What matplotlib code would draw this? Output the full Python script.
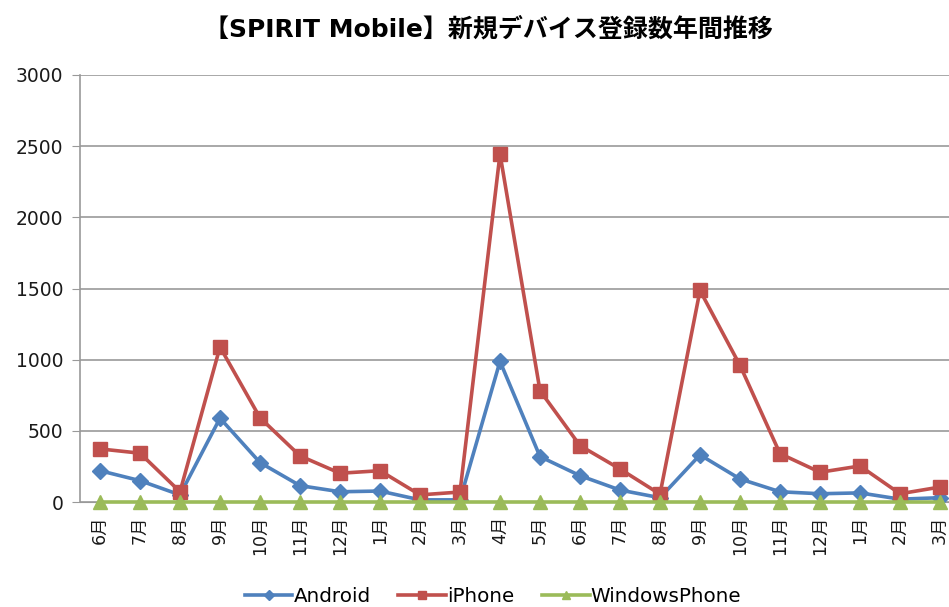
import matplotlib
matplotlib.use("Agg")
import matplotlib.pyplot as plt
import numpy as np

plt.rcParams['font.family'] = ['DejaVu Sans', 'Noto Sans CJK JP']

months = ["6月", "7月", "8月", "9月", "10月", "11月", "12月", "1月", "2月", "3月", "4月",
          "5月", "6月", "7月", "8月", "9月", "10月", "11月", "12月", "1月", "2月", "3月"]
android = [220, 150, 50, 589, 277, 115, 72, 77, 15, 15, 988,
           319, 185, 84, 30, 331, 162, 72, 58, 64, 20, 30]
iphone = [373, 343, 72, 1089, 592, 324, 202, 220, 50, 70, 2445,
          782, 396, 232, 55, 1486, 960, 340, 209, 253, 58, 105]
windows = [0, 0, 0, 0, 0, 0, 0, 0, 0, 0, 0,
           0, 0, 0, 0, 0, 0, 0, 0, 0, 0, 0]
yticks = [0, 500, 1000, 1500, 2000, 2500, 3000]
title = "【SPIRIT Mobile】新規デバイス登録数年間推移"

W, H = 949, 607
fig = plt.figure(figsize=(W / 100, H / 100), dpi=100)
ax = fig.add_axes([80 / W, (H - 502) / H, 880 / W, (502 - 75) / H])

x = np.arange(len(months))
ax.plot(x, android, color="#4F81BD", lw=2.6, marker="D", ms=8, label="Android", zorder=3)
ax.plot(x, iphone, color="#C0504D", lw=2.6, marker="s", ms=10, label="iPhone", zorder=3)
ax.plot(x, windows, color="#9BBB59", lw=2.6, marker="^", ms=10, label="WindowsPhone", zorder=4,
        clip_on=False)

ax.set_xlim(-0.5, len(months) - 0.5)
ax.set_ylim(0, 3000)
ax.set_yticks(yticks)
ax.set_yticklabels([str(v) for v in yticks], fontsize=13.5, color="#1a1a1a")
ax.set_xticks(x)
ax.set_xticklabels(months, rotation=90, fontsize=12.5, color="#1a1a1a")
ax.tick_params(axis="x", length=0, pad=10)
ax.tick_params(axis="y", length=6, color="#999999", pad=6)
ax.grid(axis="y", color="#999999", lw=1.2)
ax.set_axisbelow(True)
for s in ["top", "right"]:
    ax.spines[s].set_visible(False)
ax.spines["left"].set_color("#999999")
ax.spines["left"].set_linewidth(1.2)
ax.spines["bottom"].set_color("#999999")

fig.text(488 / W, 1 - 29 / H, title, ha="center", va="center", fontsize=18, fontweight="bold")

leg = fig.legend(loc="center", bbox_to_anchor=(493 / W, 1 - 596 / H), ncol=3, frameon=False,
                 fontsize=14.3, handlelength=2.4, columnspacing=1.4, handletextpad=0.05,
                 markerscale=0.6)

fig.savefig("out.png", dpi=100)
